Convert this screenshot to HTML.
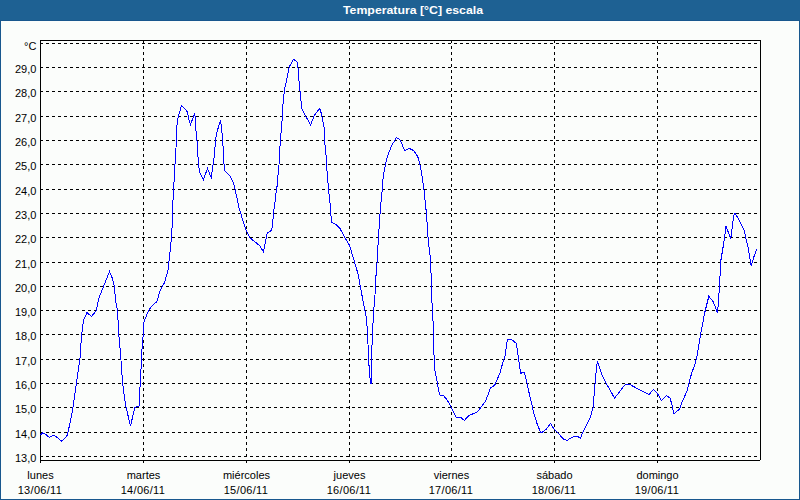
<!DOCTYPE html>
<html><head><meta charset="utf-8"><style>
html,body{margin:0;padding:0;width:800px;height:500px;overflow:hidden;background:#fbfdfb}
svg{display:block}
</style></head><body>
<svg width="800" height="500" viewBox="0 0 800 500">
<rect x="0" y="0" width="800" height="500" fill="#fbfdfb"/>
<rect x="0" y="0" width="800" height="20" fill="#1e6193"/>
<rect x="0" y="20" width="800" height="1" fill="#18578e"/>
<rect x="0" y="20" width="1" height="480" fill="#18578e"/>
<rect x="799" y="20" width="1" height="480" fill="#18578e"/>
<rect x="0" y="499" width="800" height="1" fill="#18578e"/>
<text x="343" y="14" fill="#ffffff" font-family='"Liberation Sans", sans-serif' font-size="11" font-weight="bold" textLength="140" lengthAdjust="spacingAndGlyphs">Temperatura [°C] escala</text>
<g stroke="#000" stroke-width="1" stroke-dasharray="3 3" shape-rendering="crispEdges"><line x1="40" y1="456.5" x2="760" y2="456.5"/><line x1="40" y1="432.5" x2="760" y2="432.5"/><line x1="40" y1="407.5" x2="760" y2="407.5"/><line x1="40" y1="383.5" x2="760" y2="383.5"/><line x1="40" y1="359.5" x2="760" y2="359.5"/><line x1="40" y1="334.5" x2="760" y2="334.5"/><line x1="40" y1="310.5" x2="760" y2="310.5"/><line x1="40" y1="286.5" x2="760" y2="286.5"/><line x1="40" y1="262.5" x2="760" y2="262.5"/><line x1="40" y1="237.5" x2="760" y2="237.5"/><line x1="40" y1="213.5" x2="760" y2="213.5"/><line x1="40" y1="189.5" x2="760" y2="189.5"/><line x1="40" y1="164.5" x2="760" y2="164.5"/><line x1="40" y1="140.5" x2="760" y2="140.5"/><line x1="40" y1="116.5" x2="760" y2="116.5"/><line x1="40" y1="91.5" x2="760" y2="91.5"/><line x1="40" y1="67.5" x2="760" y2="67.5"/><line x1="40" y1="43.5" x2="760" y2="43.5"/><line x1="143.5" y1="40" x2="143.5" y2="460"/><line x1="246.5" y1="40" x2="246.5" y2="460"/><line x1="349.5" y1="40" x2="349.5" y2="460"/><line x1="451.5" y1="40" x2="451.5" y2="460"/><line x1="554.5" y1="40" x2="554.5" y2="460"/><line x1="657.5" y1="40" x2="657.5" y2="460"/></g>
<rect x="40" y="40" width="721" height="1" fill="#000"/>
<rect x="40" y="460" width="720" height="1" fill="#000"/>
<rect x="40" y="40" width="1" height="423" fill="#000"/>
<rect x="760" y="40" width="1" height="420" fill="#000"/>
<rect x="143" y="461" width="1" height="2" fill="#000"/>
<rect x="246" y="461" width="1" height="2" fill="#000"/>
<rect x="349" y="461" width="1" height="2" fill="#000"/>
<rect x="451" y="461" width="1" height="2" fill="#000"/>
<rect x="554" y="461" width="1" height="2" fill="#000"/>
<rect x="657" y="461" width="1" height="2" fill="#000"/>
<g fill="#000" font-family='"Liberation Sans", sans-serif' font-size="11"><text x="36.4" y="462" text-anchor="end">13,0</text><text x="36.4" y="438" text-anchor="end">14,0</text><text x="36.4" y="413" text-anchor="end">15,0</text><text x="36.4" y="389" text-anchor="end">16,0</text><text x="36.4" y="365" text-anchor="end">17,0</text><text x="36.4" y="340" text-anchor="end">18,0</text><text x="36.4" y="316" text-anchor="end">19,0</text><text x="36.4" y="292" text-anchor="end">20,0</text><text x="36.4" y="268" text-anchor="end">21,0</text><text x="36.4" y="243" text-anchor="end">22,0</text><text x="36.4" y="219" text-anchor="end">23,0</text><text x="36.4" y="195" text-anchor="end">24,0</text><text x="36.4" y="170" text-anchor="end">25,0</text><text x="36.4" y="146" text-anchor="end">26,0</text><text x="36.4" y="122" text-anchor="end">27,0</text><text x="36.4" y="97" text-anchor="end">28,0</text><text x="36.4" y="73" text-anchor="end">29,0</text><text x="36.4" y="50" text-anchor="end">°C</text><text x="40.5" y="479" text-anchor="middle">lunes</text><text x="39.9" y="494" text-anchor="middle" letter-spacing="0.3">13/06/11</text><text x="143.5" y="479" text-anchor="middle">martes</text><text x="142.9" y="494" text-anchor="middle" letter-spacing="0.3">14/06/11</text><text x="246.5" y="479" text-anchor="middle">miércoles</text><text x="245.9" y="494" text-anchor="middle" letter-spacing="0.3">15/06/11</text><text x="349.5" y="479" text-anchor="middle">jueves</text><text x="348.9" y="494" text-anchor="middle" letter-spacing="0.3">16/06/11</text><text x="451.5" y="479" text-anchor="middle">viernes</text><text x="450.9" y="494" text-anchor="middle" letter-spacing="0.3">17/06/11</text><text x="554.5" y="479" text-anchor="middle">sábado</text><text x="553.9" y="494" text-anchor="middle" letter-spacing="0.3">18/06/11</text><text x="657.5" y="479" text-anchor="middle">domingo</text><text x="656.9" y="494" text-anchor="middle" letter-spacing="0.3">19/06/11</text></g>
<polyline points="40.5,435 42.5,433 44.5,433.5 49.5,437.5 53.5,435.2 56,436.5 61.5,441.2 66.5,436.5 67.5,434.5 70,423 72,413 73,407.5 76.5,383 80,358 80.5,350 81.5,337 82.5,327.5 83.5,320 87,312.5 91.5,316.5 96,311 99,298 102,290 105,283 109.5,271.5 112,277.5 114,285 116,303 117.5,310 118,320 119,337 120.5,353 122.5,382 123.5,390 125.5,405 130.5,426 134,411 135,407.5 139,406 139.5,395 140.8,375 141.6,354.4 143.2,334.4 144,322 148.5,310.5 151,307 154,304 156.5,302 158,298 159.5,292.5 160.5,290 164.4,282.8 168,270.2 169.8,254 171.6,236 172.5,218 173,200 173.5,190 174,182 175,164.5 176,148 176.5,131 177.5,120 179.5,112.5 181.5,105.5 186.5,110.5 187.5,112.5 188.5,118 190.5,124.5 193.5,116.5 194.5,113.5 195.5,119 196,130.5 197,141 198.5,164 199.5,172 203.5,179.5 207.5,168.5 211.5,178.5 212.5,166.5 213.5,164 215.5,141 216.5,134 219,125 220.5,120.5 221.5,127 222.5,139 223.5,152 224,164 224.5,170.5 230,176 233,182 234.5,186 235.5,192 237.5,200 239.5,210 241,214 242.5,220 246.5,231 250,238 252,239.5 257,243.5 260,246 263.5,252 264.5,247 267,234 268,232.5 271.5,230.5 272.5,225.5 273.5,212.5 275.5,199 276.5,188 277.5,185 278,175 279,165 279.5,152 280.5,140 281.5,126 282.5,116 283.2,99.4 285,87.4 286.8,79 289.2,67 293.4,59.2 297.6,62.2 298.8,79 300,91 301.8,108.4 304.8,114.4 310.5,125 314.5,115 319.8,108.4 321.6,114.4 323,122 324.5,130 324.5,140 326,155 327,170.5 328,183 329,194 330.5,207 331,216 331.5,222.5 336,224.5 340,228.5 344,236 349,244.5 350,247 354.7,262.6 358.2,274.5 360.3,286.4 364.5,308.8 366.5,318.7 367.2,328.5 368,344.2 368.7,359.2 369.5,375 370.7,383.2 371.5,383 371.7,353.2 372.5,333 373.6,311.6 375,294.8 375.7,279.4 377.1,261.9 378,245 379,229 380,214.5 380.5,207 382,192 382.5,183 383.5,175 385.5,164 387,158 388.5,153.5 391.5,146 393.5,142.5 396.5,137.5 399.5,139.5 401.5,142.5 403.5,148.5 405,150.5 409,148.5 412,149.5 414,151 417,155.5 418.5,158.5 420,165 421.5,173 424,190 426.4,213.2 428,237.2 429.3,250 430.4,257.2 431.2,277.2 432,302.8 433.5,329.5 434,355 434.5,369 436.5,378 439.5,395 443.5,395.5 447.5,400.5 451.2,407.2 456,417.2 460.4,417.2 464.4,420.4 469.2,415.2 471.6,414.4 477.2,412 480.8,407.6 485.5,401 487.5,396 490.5,388.1 494.7,385.3 496.8,380.4 500.3,372 503.1,361.5 505.2,355.2 507.3,339.8 511.5,339.5 513.6,341.2 516.4,343.3 517.8,353.8 520.6,373.4 524.1,372 525.5,376.2 528.3,389.5 532,405 534,414 537.5,425 541,433 546,429.5 550.5,423.5 554,429 556.5,431.5 563.5,439 567,440.5 571.5,437.5 575,436 577.5,436.5 580.5,438 583,432 590,418 593,408 594.5,390 595.5,379 596.5,367 597.5,361.5 598.5,365 602.5,376 606,383 614.5,398 618,394 622,388.5 625,385 629,384 632.5,386 639,389.5 649,394.5 653.5,389.5 657.5,393.5 661.5,400.5 666.5,395.5 670,398 672,405 674,414 679.5,409 682.5,401 687,391 689,383 691,375.5 692.8,370 695.2,363.6 696.8,357.2 700.8,333.2 704.8,312.4 708.8,296.4 712.8,301.2 715.2,306 717.2,312.5 718.4,304.4 719.2,290 721,259.6 723.1,247 724.5,238.6 725.9,226 730.8,238.6 733.6,216.2 735,213.4 738.5,219 742,226 744.5,231 746.2,240 748.3,248.4 751.1,265.9 753.9,256.8 756.7,249.1" fill="none" stroke="#0000ff" stroke-width="1" shape-rendering="crispEdges"/>
</svg>
</body></html>
